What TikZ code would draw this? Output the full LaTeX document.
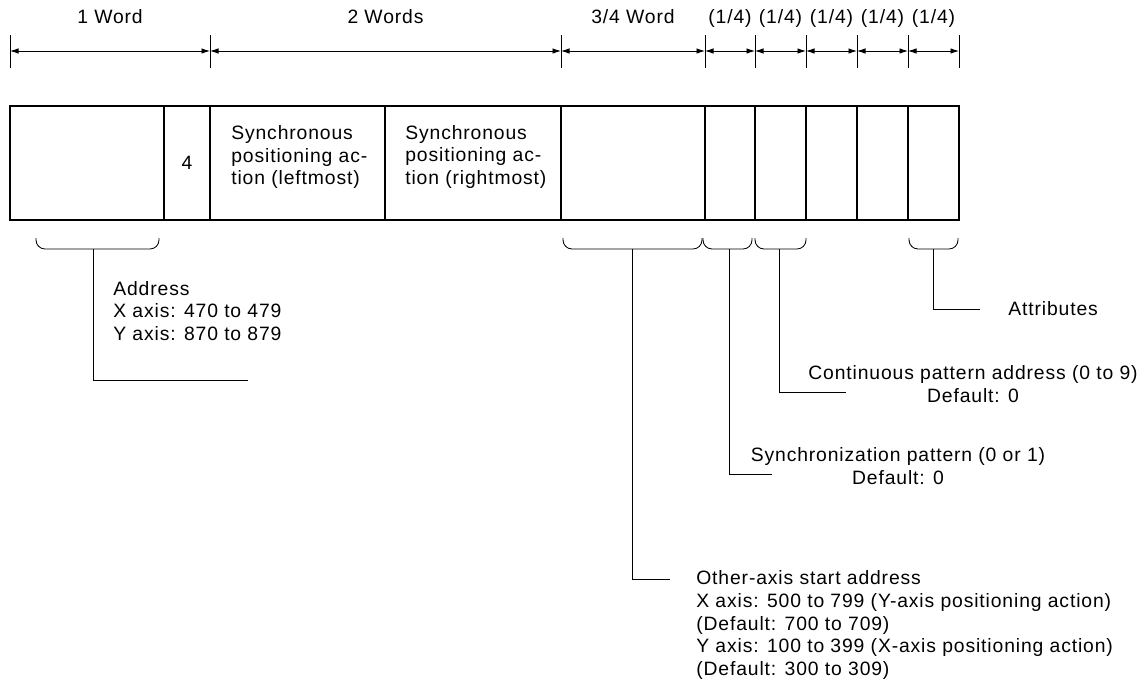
\documentclass[tikz,border=0pt]{standalone}
\usepackage{fontspec}
\setmainfont{Liberation Sans}[LetterSpace=4.5]
\usetikzlibrary{arrows.meta}
\tikzset{
 wf frame/.style={line width=0.7pt},
 wf tick/.style={line width=0.5pt},
 wf dim/.style={line width=0.5pt,
                {Latex[length=1.7mm,width=1.1mm]}-{Latex[length=1.7mm,width=1.1mm]}},
 wf brace/.style={line width=0.5pt,rounded corners=1.8mm},
 wf lead/.style={line width=0.5pt},
 wf text/.style={font=\fontsize{11}{12.9}\selectfont,inner sep=0pt},
 wf top/.style={wf text,anchor=base,yshift=5.5mm}
}

\begin{document}
\begin{tikzpicture}[x=0.2mm,y=-0.2mm]
 \useasboundingbox (0,0) rectangle (1144,685);

 % word widths along the top
 \foreach \x [count=\i] in {10,210,561,705,755,806,857,908,959}
   \coordinate (t\i) at (\x,51);
 \foreach \i in {1,...,9} \draw[wf tick] (t\i) ++(0,-16) -- ++(0,33);
 \draw[wf dim] (t1) -- node[wf top] (w1) {1 Word}(t2);
 \draw[wf dim] (t2) -- node[wf top] (w2) {2 Words}(t3);
 \draw[wf dim] (t3) -- node[wf top] (w3) {3/4 Word}(t4);
 \foreach \i [evaluate=\i as \j using int(\i+1)] in {4,...,8}
   \draw[wf dim] (t\i) -- node[wf top] (w\i) {(1/4)}(t\j);

 % the data block
 \foreach \x [count=\i] in {10,164,210,385,561,705,755,806,857,908}
   \coordinate (c\i) at (\x,106);
 \draw[wf frame] (c1) rectangle (959,220);
 \foreach \i in {2,...,10} \draw[wf frame] (c\i) -- ++(0,114);
 \node[wf text] (four) at (187,163) {4};
 \node[wf text,anchor=west,align=left] (syncl) at (231,157)
   {Synchronous\\positioning ac-\\tion (leftmost)};
 \node[wf text,anchor=west,align=left] (syncr) at (405,157)
   {Synchronous\\positioning ac-\\tion (rightmost)};

 % braces under the fields
 \foreach \a/\m/\b/\n in {36/93/159/1,563/632/702/2,703/729/752/3,
                          755/779/806/4,909/933/958/5}
   \draw[wf brace] (\a,238) |- (\m,249) coordinate (b\n) -| (\b,238);

 % field descriptions
 \node[wf text,anchor=west,align=left] (addr) at (113,311)
   {Address\\X axis: 470 to 479\\Y axis: 870 to 879};
 \node[wf text,anchor=west] (attr) at (1008,309) {Attributes};
 \node[wf text,align=center] (cont) at (973,384)
   {Continuous pattern address (0 to 9)\\Default: 0};
 \node[wf text,align=center] (sync) at (898,466)
   {Synchronization pattern (0 or 1)\\Default: 0};
 \node[wf text,anchor=west,align=left] (other) at (696,625)
   {Other-axis start address\\
    X axis: 500 to 799 (Y-axis positioning action)\\
    (Default: 700 to 709)\\
    Y axis: 100 to 399 (X-axis positioning action)\\
    (Default: 300 to 309)};

 \coordinate (e1) at (248,380);
 \coordinate (e2) at (670,579);
 \coordinate (e3) at (772,474);
 \coordinate (e4) at (846,392);
 \coordinate (e5) at (980,309);
 \foreach \n in {1,...,5} \draw[wf lead] (b\n) |- (e\n);
\end{tikzpicture}
\end{document}
